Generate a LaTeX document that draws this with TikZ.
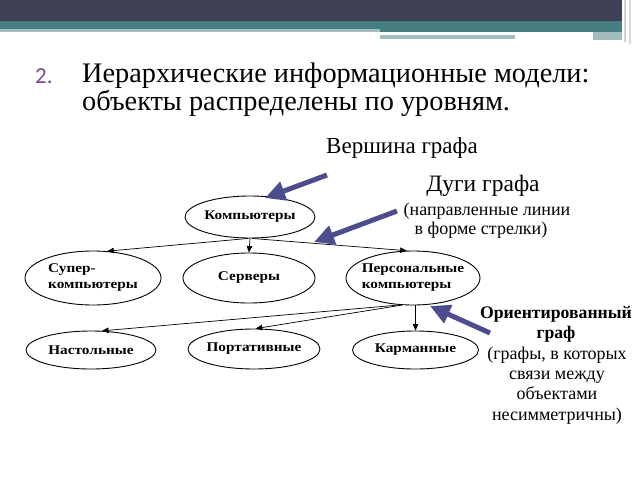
\documentclass[tikz,border=0pt]{standalone}
\usepackage{fontspec}
\setmainfont{Liberation Serif}
\newfontfamily\numfont{Carlito}
\newfontfamily\lblfont[FakeStretch=1.15]{Liberation Serif}
\usetikzlibrary{shapes.geometric,arrows.meta}
\definecolor{bardark}{HTML}{3F4256}
\definecolor{barteal}{HTML}{467E82}
\definecolor{barlight}{HTML}{A2BCBF}
\definecolor{numpurple}{HTML}{7E4A8E}
\definecolor{bluearr}{HTML}{4B4D8C}
\tikzset{
  vert/.style={draw, ellipse, line width=0.9pt, inner sep=-20pt, align=left,
    font=\lblfont\bfseries\fontsize{13.3}{16}\selectfont},
  arr/.style={line width=0.7pt, -{Triangle[length=6.5pt,width=5.5pt]}},
  barr/.style={draw=bluearr, line width=5pt, -{Triangle[length=20pt,width=19pt]}},
  txt/.style={inner sep=0pt, anchor=center},
  ann/.style={inner sep=0pt, anchor=base, font=\fontsize{18}{19}\selectfont},
}
\begin{document}
\begin{tikzpicture}[x=1pt,y=-1pt]
\useasboundingbox (0,0) rectangle (640,480);
% top bar
\fill[bardark] (0,0) rectangle (622,21);
\fill[barteal] (0,21) rectangle (622,29);
\fill[barteal] (380,29) rectangle (622,32);
\fill[barlight] (0,29) rectangle (380,32);
\fill[barlight] (380,35) rectangle (515,39);
\fill[barlight] (593,32) rectangle (622,40);
\fill[gray!35] (623.5,0) rectangle (625.5,42);
\fill[gray!30] (628.5,0) rectangle (631,44);
% title
\node[txt, anchor=west, text=numpurple, font=\numfont\fontsize{23}{24}\selectfont] (num) at (35,76) {2.};
\node[txt, anchor=west, font=\fontsize{28.3}{30}\selectfont] (t1) at (82,76) {Иерархические информационные модели:};
\node[txt, anchor=west, font=\fontsize{28.3}{30}\selectfont] (t2) at (82,103) {объекты распределены по уровням.};
% annotations
\node[txt, font=\fontsize{23}{24}\selectfont] (vg) at (402,148) {Вершина графа};
\node[txt, font=\fontsize{23.5}{24}\selectfont] (dg) at (483,186) {Дуги графа};
\node[ann] (dg1) at (487,215) {(направленные линии};
\node[ann] (dg2) at (481,234) {в форме стрелки)};
\node[ann, font=\bfseries\fontsize{17.7}{19}\selectfont] (og1) at (556,318) {Ориентированный};
\node[ann, font=\bfseries\fontsize{17.7}{19}\selectfont] (og2) at (556,338) {граф};
\node[ann] (og3) at (557,359) {(графы, в которых};
\node[ann] (og4) at (557,379) {связи между};
\node[ann] (og5) at (557,399) {объектами};
\node[ann] (og6) at (557,420) {несимметричны)};
% graph vertices
\node[vert, minimum width=130pt, minimum height=42pt] (comp) at (250,217) {Компьютеры};
\node[vert, minimum width=136pt, minimum height=54pt] (super) at (93,278) {Супер-\\компьютеры};
\node[vert, minimum width=132pt, minimum height=50pt] (serv) at (249,278) {Серверы};
\node[vert, minimum width=134pt, minimum height=54pt] (pers) at (413,278) {Персональные\\компьютеры};
\node[vert, minimum width=130pt, minimum height=38pt] (nast) at (91,350) {Настольные};
\node[vert, minimum width=132pt, minimum height=40pt] (port) at (254,349) {Портативные};
\node[vert, minimum width=126pt, minimum height=38pt] (karm) at (415.5,350) {Карманные};
% arcs
\draw[arr] (comp.265) -- (super.62);
\draw[arr] (comp.south) -- (serv.north);
\draw[arr] (comp.275) -- (pers.103);
\draw[arr] (pers.244) -- (nast.60);
\draw[arr] (pers.248) -- (port.85);
\draw[arr] (karm.north |- pers.south) -- (karm.north);
% blue pointers
\coordinate (b1s) at (327,175);
\coordinate (b1e) at (265,198);
\coordinate (b2s) at (397,211);
\coordinate (b2e) at (314,242);
\coordinate (b3s) at (490,333);
\coordinate (b3e) at (430,306);
\draw[barr] (b1s) -- (b1e);
\draw[barr] (b2s) -- (b2e);
\draw[barr] (b3s) -- (b3e);
\end{tikzpicture}
\end{document}
